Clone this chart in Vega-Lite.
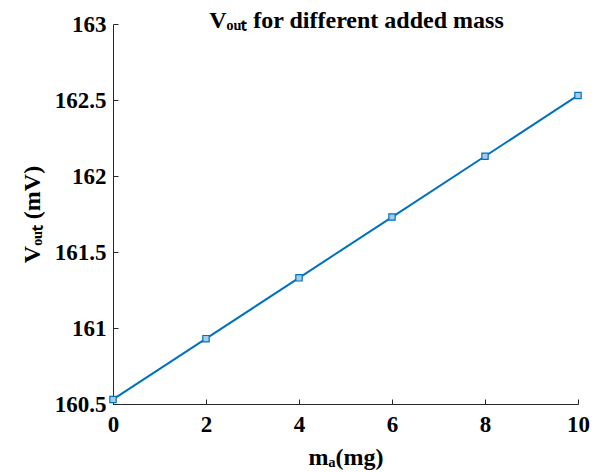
{
  "$schema": "https://vega.github.io/schema/vega-lite/v6.json",
  "autosize": "none",
  "padding": {"left": 113, "top": 24, "right": 17, "bottom": 68},
  "width": 465,
  "height": 380,
  "background": "white",
  "data": {"values": [
    {"m": 0, "v": 160.53},
    {"m": 2, "v": 160.93},
    {"m": 4, "v": 161.33},
    {"m": 6, "v": 161.73},
    {"m": 8, "v": 162.13},
    {"m": 10, "v": 162.53}
  ]},
  "title": {
    "text": "Vₒᵤₜ for different added mass",
    "font": "Liberation Serif",
    "fontSize": 24,
    "fontWeight": "bold",
    "color": "#000000",
    "anchor": "middle",
    "frame": "group",
    "offset": -20,
    "dx": 11
  },
  "config": {
    "view": {"stroke": null},
    "axis": {
      "grid": false,
      "domainColor": "#262626",
      "tickColor": "#262626",
      "tickSize": -5,
      "labelFont": "Liberation Serif",
      "labelFontSize": 23,
      "labelFontWeight": "bold",
      "labelColor": "#000000",
      "titleFont": "Liberation Serif",
      "titleFontSize": 24,
      "titleFontWeight": "bold",
      "titleColor": "#000000"
    }
  },
  "layer": [
    {
      "mark": {"type": "line", "color": "#0072BD", "strokeWidth": 2},
      "encoding": {
        "x": {"field": "m", "type": "quantitative", "scale": {"domain": [0, 10], "nice": false},
              "axis": {"values": [0, 2, 4, 6, 8, 10], "format": "~r", "title": "mₐ(mg)", "labelPadding": 14, "titlePadding": 9, "labelFlush": false}},
        "y": {"field": "v", "type": "quantitative", "scale": {"domain": [160.5, 163], "nice": false, "zero": false},
              "axis": {"values": [160.5, 161, 161.5, 162, 162.5, 163], "format": "~r", "title": "Vₒᵤₜ (mV)", "labelPadding": 12, "titlePadding": 10, "labelFlush": false}}
      }
    },
    {
      "mark": {"type": "point", "shape": "square", "filled": false, "fill": "#a6cbe9", "fillOpacity": 1, "stroke": "#0072BD", "strokeWidth": 1.2, "size": 40, "opacity": 1},
      "encoding": {
        "x": {"field": "m", "type": "quantitative"},
        "y": {"field": "v", "type": "quantitative"}
      }
    }
  ]
}
